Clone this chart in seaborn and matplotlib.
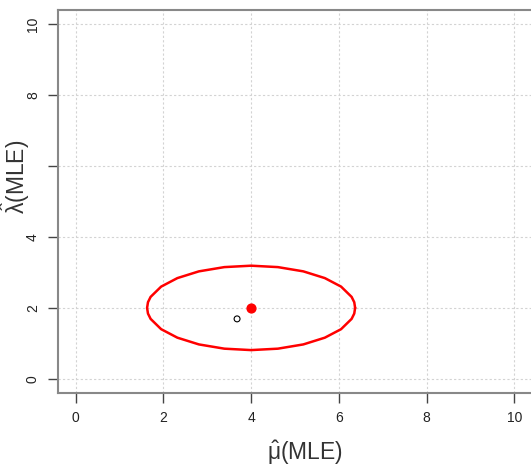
import numpy as np
import matplotlib
matplotlib.use("Agg")
import matplotlib.pyplot as plt
import seaborn as sns

# confidence region outline (mu, lambda)
ellipse_mu = [6.37, 6.35, 6.29, 6.05, 5.68, 5.19, 4.61, 4.00, 3.39, 2.81, 2.32, 1.95, 1.71, 1.65, 1.63,
              1.65, 1.71, 1.95, 2.32, 2.81, 3.39, 4.00, 4.61, 5.19, 5.68, 6.05, 6.29, 6.35, 6.37]
ellipse_lam = [2.00, 2.16, 2.31, 2.60, 2.84, 3.03, 3.15, 3.19, 3.15, 3.03, 2.84, 2.60, 2.31, 2.16, 2.00,
               1.84, 1.69, 1.40, 1.16, 0.97, 0.85, 0.81, 0.85, 0.97, 1.16, 1.40, 1.69, 1.84, 2.00]

true_mu, true_lam = [4.0], [2.0]
est_mu, est_lam = [3.68], [1.69]

ticks = [0, 2, 4, 6, 8, 10]
x_ticklabels = ["0", "2", "4", "6", "8", "10"]
y_ticklabels = ["0", "2", "4", "", "8", "10"]

sns.set_style("white")
plt.rcParams['font.family'] = ['Liberation Sans', 'DejaVu Sans']
plt.rcParams['mathtext.fontset'] = 'custom'
plt.rcParams['mathtext.rm'] = 'Liberation Sans'
plt.rcParams['mathtext.it'] = 'Liberation Sans'

fig = plt.figure(figsize=(5.31, 4.66), dpi=100)
ax = fig.add_axes([58 / 531, 73 / 466, 474 / 531, 383 / 466])

sns.lineplot(x=ellipse_mu, y=ellipse_lam, sort=False, estimator=None,
             color="red", linewidth=1.8, ax=ax)
sns.scatterplot(x=true_mu, y=true_lam, color="red", s=40, edgecolor="red",
                linewidth=1, ax=ax, zorder=5)
sns.scatterplot(x=est_mu, y=est_lam, facecolor="none", edgecolor="black",
                s=18, linewidth=0.8, ax=ax, zorder=5)

ax.set_xlim(-0.4, 10.4)
ax.set_ylim(-0.4, 10.4)
ax.set_xticks(ticks)
ax.set_xticklabels(x_ticklabels)
ax.set_yticks(ticks)
ax.set_yticklabels(y_ticklabels, rotation=90, va="center")
ax.grid(True, linestyle=(0, (2, 2)), color="#d3d3d3", linewidth=0.8)

for side in ["left", "bottom", "top"]:
    ax.spines[side].set_color("#888888")
    ax.spines[side].set_linewidth(1.5)
ax.spines["right"].set_visible(False)

ax.tick_params(axis="both", direction="out", length=7, width=1, color="#444444",
               labelsize=10, labelcolor="#222222", pad=6, bottom=True, left=True)

ax.set_xlabel(r"$\hat{\mu}$(MLE)", fontsize=16.5, color="#333333")
ax.set_ylabel(r"$\hat{\lambda}$(MLE)", fontsize=16.5, color="#333333")
ax.xaxis.set_label_coords(0.52, -0.12)
ax.yaxis.set_label_coords(-0.055, 0.565)

fig.savefig("out.png", dpi=100)
